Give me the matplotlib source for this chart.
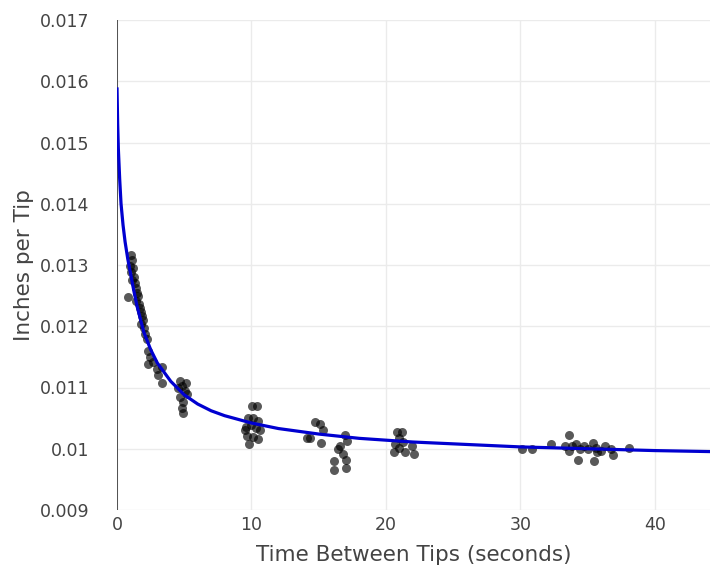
import matplotlib
matplotlib.use("Agg")
import matplotlib.pyplot as plt

# Observed points (seconds between tips, inches per tip)
time_s = [
    1.04, 1.12, 0.97, 1.19, 1.04, 1.26, 1.12, 1.34, 0.82, 1.41, 1.49, 1.56, 1.41, 1.64,
    1.71, 1.78, 1.86, 1.93, 1.78, 2.00, 2.08, 2.23,
    2.30, 2.45, 2.30, 2.68, 2.97, 3.35, 3.05, 3.35,
    4.68, 4.83, 5.06, 5.20, 4.68, 4.90, 4.83, 4.90, 4.50, 5.13,
    10.04, 10.41, 9.74, 10.10, 10.48, 9.60, 9.96, 10.33, 10.63, 9.67, 10.10, 10.48, 9.81, 9.52,
    14.70, 15.10, 15.30, 14.10, 14.35, 15.20, 16.95, 17.10, 16.60, 16.40, 16.10, 17.00, 16.10,
    17.00, 16.80,
    20.80, 21.20, 21.00, 20.70, 21.30, 21.00, 20.60, 21.40, 21.90, 22.10,
    30.10, 30.86, 32.30, 33.30, 33.60, 33.60, 33.80, 34.10, 34.40, 34.30, 34.70, 35.00, 35.40,
    35.60, 35.70, 35.50, 36.00, 36.30, 36.70, 36.90, 38.10,
]
inches_per_tip = [
    0.01316, 0.01308, 0.01299, 0.01295, 0.01288, 0.01281, 0.01275, 0.01270, 0.01247, 0.01262,
    0.01255, 0.01249, 0.01242, 0.01236, 0.01229, 0.01223, 0.01216, 0.01210, 0.01203, 0.01197,
    0.01188, 0.01180,
    0.01160, 0.01149, 0.01139, 0.01141, 0.01131, 0.01133, 0.01120, 0.01108,
    0.01111, 0.01103, 0.01095, 0.01090, 0.01084, 0.01076, 0.01066, 0.01059, 0.01100, 0.01107,
    0.01069, 0.01069, 0.01050, 0.01051, 0.01046, 0.01036, 0.01038, 0.01034, 0.01031, 0.01020,
    0.01019, 0.01016, 0.01008, 0.01031,
    0.01043, 0.01041, 0.01030, 0.01017, 0.01017, 0.01010, 0.01022, 0.01013, 0.01005, 0.01000,
    0.00980, 0.00982, 0.00966, 0.00968, 0.00992,
    0.01028, 0.01028, 0.01018, 0.01008, 0.01011, 0.01001, 0.00994, 0.00994, 0.01004, 0.00992,
    0.01000, 0.01000, 0.01007, 0.01005, 0.01022, 0.00997, 0.01004, 0.01007, 0.01000, 0.00982,
    0.01004, 0.00999, 0.01010, 0.01002, 0.00994, 0.00980, 0.00997, 0.01005, 0.01000, 0.00989,
    0.01002,
]

# Fitted trend line
fit_x = [0, 0.05, 0.1, 0.2, 0.3, 0.45, 0.6, 0.8, 1.0, 1.25, 1.5, 2, 2.5, 3, 4, 5, 6, 7, 8,
         10, 12, 15, 18, 22, 26, 30, 35, 40, 45]
fit_y = [0.0159, 0.0153, 0.0149, 0.0144, 0.0140, 0.01365, 0.01338, 0.0131, 0.01287, 0.01258,
         0.01232, 0.0119, 0.01162, 0.0114, 0.0111, 0.01088, 0.01073, 0.01062, 0.01054,
         0.01042, 0.01033, 0.01024, 0.01017, 0.01011, 0.01007, 0.01003, 0.01000, 0.00997,
         0.00995]

x_ticks = [0, 10, 20, 30, 40]
x_tick_labels = ["0", "10", "20", "30", "40"]
y_ticks = [0.009, 0.010, 0.011, 0.012, 0.013, 0.014, 0.015, 0.016, 0.017]
y_tick_labels = ["0.009", "0.01", "0.011", "0.012", "0.013", "0.014", "0.015", "0.016", "0.017"]

plt.rcParams["font.family"] = ["DejaVu Sans"]
W, H = 710, 570
fig = plt.figure(figsize=(W / 100, H / 100), dpi=100)
fig.patch.set_facecolor("white")
ax = fig.add_axes([117 / W, 60 / H, (W - 117) / W, 490 / H])

ax.set_xlim(0, 44.09)
ax.set_ylim(0.009, 0.017)

for s in ax.spines.values():
    s.set_visible(False)
ax.grid(True, color="#ebebeb", linewidth=1.0)
ax.set_axisbelow(True)
ax.axvline(0, color="#444444", linewidth=1.3, zorder=2)

ax.scatter(time_s, inches_per_tip, s=42, color="black", alpha=0.65, linewidths=0, zorder=3)
ax.plot(fit_x, fit_y, color="#0000d0", linewidth=2.3, zorder=4, solid_capstyle="butt")

ax.set_xticks(x_ticks)
ax.set_xticklabels(x_tick_labels)
ax.set_yticks(y_ticks)
ax.set_yticklabels(y_tick_labels)
ax.tick_params(axis="both", length=0, labelsize=12.5, labelcolor="#444444")
ax.tick_params(axis="y", pad=20)
ax.tick_params(axis="x", pad=4)

ax.set_xlabel("Time Between Tips (seconds)", fontsize=15.5, color="#444444", labelpad=8)
ax.set_ylabel("Inches per Tip", fontsize=15.5, color="#444444", labelpad=4)

fig.savefig("out.png", dpi=100)
